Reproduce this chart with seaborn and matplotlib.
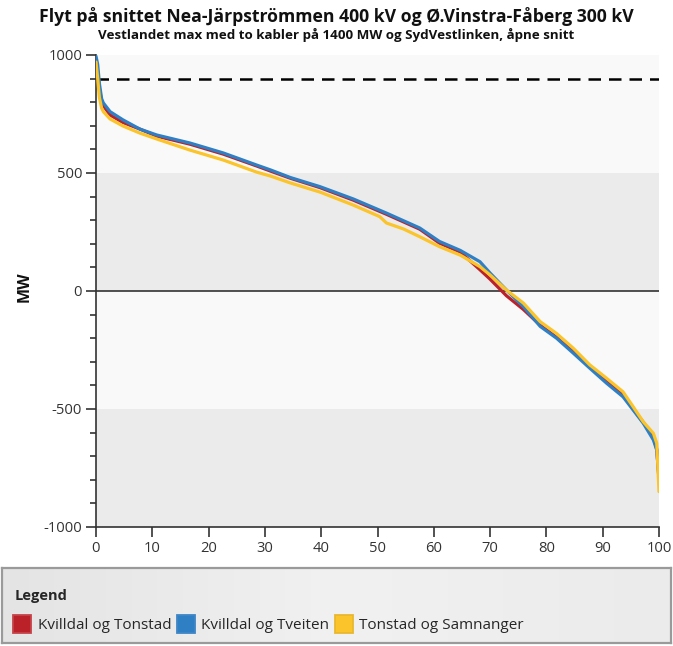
import numpy as np
import pandas as pd
import matplotlib
matplotlib.use("Agg")
import matplotlib.pyplot as plt
import seaborn as sns
from matplotlib.lines import Line2D
from matplotlib.ticker import MultipleLocator

sns.set_theme(style="white")
plt.rcParams['font.family'] = ['Open Sans', 'DejaVu Sans']
plt.rcParams['axes.unicode_minus'] = False

title = "Flyt på snittet Nea-Järpströmmen 400 kV og Ø.Vinstra-Fåberg 300 kV"
subtitle = "Vestlandet max med to kabler på 1400 MW og SydVestlinken, åpne snitt"
series_names = ["Kvilldal og Tonstad", "Kvilldal og Tveiten", "Tonstad og Samnanger"]
colors = ["#bb2129", "#2f7fc4", "#fbc42a"]
edge_colors = ["#c4444a", "#3f86c6", "#e8b830"]

x_red = [0, 0.3, 0.6, 1.0, 1.3, 2.5, 4.8, 7.8, 10.8, 16.7, 22.6, 28.5, 31, 34.5, 39.8, 45.7,
         51.6, 57.5, 61, 64.7, 68.2, 70, 72.9, 75.9, 78.9, 81.8, 84.8, 87.7, 90.7, 93.6,
         95.4, 97.2, 99.0, 99.6, 100]
y_red = [960, 930, 860, 800, 785, 746, 714, 686, 656, 622, 580, 530, 508, 478, 438, 385,
         325, 262, 203, 165, 90, 50, -20, -78, -145, -196, -258, -318, -382, -440,
         -500, -556, -620, -670, -800]

x_blue = [0, 0.3, 0.6, 1.0, 1.3, 2.5, 4.8, 7.8, 10.8, 16.7, 22.6, 28.5, 31, 34.5, 39.8, 45.7,
          51.6, 57.5, 61, 64.7, 68.2, 70, 72.9, 75.9, 78.9, 81.8, 84.8, 87.7, 90.7, 93.6,
          95.4, 97.2, 99.0, 99.6, 100]
y_blue = [995, 960, 880, 815, 797, 760, 725, 686, 661, 627, 585, 534, 513, 481, 442, 390,
          330, 267, 210, 172, 124, 76, 4, -66, -150, -200, -264, -327, -391, -448,
          -504, -560, -631, -674, -790]

x_yellow = [0, 0.3, 0.6, 1.0, 1.3, 2.5, 4.8, 7.8, 10.8, 16.7, 22.6, 28.5, 31, 34.5, 39.8, 45.7,
            50.4, 51.6, 54.6, 57.5, 61, 64.7, 68.2, 70, 72.9, 75.9, 78.9, 81.8, 84.8, 87.7,
            90.7, 93.6, 95.4, 97.2, 99.0, 99.6, 100]
y_yellow = [970, 900, 820, 775, 760, 729, 699, 669, 644, 597, 555, 504, 487, 458, 419, 364,
            315, 288, 263, 230, 188, 152, 103, 68, 4, -51, -130, -180, -243, -313,
            -370, -427, -490, -554, -603, -645, -850]

limit_value = 900
x_ticks = list(range(0, 101, 10))
y_ticks = [-1000, -500, 0, 500, 1000]

frames = []
for name, xs, ys in [(series_names[0], x_red, y_red),
                     (series_names[1], x_blue, y_blue),
                     (series_names[2], x_yellow, y_yellow)]:
    frames.append(pd.DataFrame({"x": xs, "MW": ys, "serie": name}))
df = pd.concat(frames, ignore_index=True)

fig = plt.figure(figsize=(6.73, 6.46), dpi=100)
fig.patch.set_facecolor("white")
ax = fig.add_axes([96/673, 1-527/646, (659-96)/673, (527-55)/646])
ax.set_facecolor("#f9f9f9")
ax.axhspan(0, 500, color="#ebebeb", zorder=0, lw=0)
ax.axhspan(-1000, -500, color="#ebebeb", zorder=0, lw=0)

sns.lineplot(data=df, x="x", y="MW", hue="serie", palette=dict(zip(series_names, colors)),
             estimator=None, sort=True, lw=2.3, ax=ax, legend=False, zorder=3)

ax.axhline(0, color="#333333", lw=1.2, zorder=2)
ax.axhline(limit_value, color="black", lw=1.8, ls=(0, (5, 3.2)), zorder=2)

ax.set_xlim(0, 100)
ax.set_ylim(-1000, 1000)
ax.set_xticks(x_ticks)
ax.set_yticks(y_ticks)
ax.yaxis.set_minor_locator(MultipleLocator(100))
ax.tick_params(axis="both", which="major", direction="out", length=7.5, width=1.2,
               color="#333333", labelsize=10.6, labelcolor="#333333", left=True, bottom=True, pad=2.5)
ax.tick_params(axis="y", which="minor", direction="out", length=4.3, width=1.2,
               color="#333333", left=True)
for s in ["top", "right"]:
    ax.spines[s].set_visible(False)
for s in ["left", "bottom"]:
    ax.spines[s].set_color("#333333")
    ax.spines[s].set_linewidth(1.2)
ax.set_xlabel("")
ax.set_ylabel("MW", fontsize=11.5, fontweight="bold", color="#111111")
ax.yaxis.set_label_coords((25-96)/563, (527-287)/472)
ax.yaxis.label.set_verticalalignment("center")

fig.text(0.5, 1-17/646, title, ha="center", va="center", fontsize=12.7, fontweight="bold",
         color="#111111")
fig.text(0.5, 1-35/646, subtitle, ha="center", va="center", fontsize=9.6, fontweight="bold",
         color="#111111")

# legend panel
lax = fig.add_axes([2/673, 3/646, 669/673, 75/646])
grad = np.linspace(0, 1, 256).reshape(1, -1)
lax.imshow(grad, aspect="auto", cmap=matplotlib.colors.LinearSegmentedColormap.from_list(
    "g", ["#e4e4e4", "#f1f1f1", "#ebebeb"]), extent=[0, 1, 0, 1], zorder=0)
lax.set_xlim(0, 1)
lax.set_ylim(0, 1)
lax.set_xticks([])
lax.set_yticks([])
for s in lax.spines.values():
    s.set_color("#9a9a9a")
    s.set_linewidth(1.6)

handles = [Line2D([], [], ls="none", marker="s", markersize=12.5, markerfacecolor=c,
                  markeredgecolor=e, markeredgewidth=1.3) for c, e in zip(colors, edge_colors)]
leg = lax.legend(handles, series_names, title="Legend", ncol=3, loc="upper left",
                 bbox_to_anchor=(0.003, 0.86), frameon=False, fontsize=11,
                 handlelength=1.0, handletextpad=0.5, columnspacing=0.45,
                 labelspacing=1.0, alignment="left", borderaxespad=0.3)
leg.get_title().set_fontweight("bold")
leg.get_title().set_fontsize(10.5)

fig.savefig("out.png", dpi=100)
